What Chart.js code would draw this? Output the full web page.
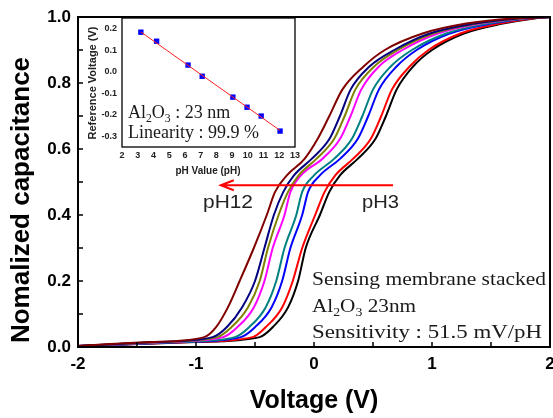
<!DOCTYPE html>
<html lang="en">
<head>
  <meta charset="UTF-8" />
  <title>C-V curves, Al2O3 sensing membrane</title>
  <script src="https://cdn.jsdelivr.net/npm/chart.js"></script>
  <style>
    body { margin: 0; background: #fff; }
    #wrap { position: relative; width: 553px; height: 418px; }
    #wrap canvas { position: absolute; }
  </style>
</head>
<body>
  <div id="wrap">
    <canvas id="cvChart" width="553" height="418" style="left:0;top:0"></canvas>
    <canvas id="insetChart" width="220" height="172" style="left:80px;top:10px"></canvas>
  </div>

  <script>
    // normalized capacitance levels, and the voltage where each curve reaches them
    const capLevels = [0.003, 0.015, 0.03, 0.06, 0.12, 0.2, 0.3, 0.4, 0.47, 0.52, 0.57, 0.63, 0.7, 0.78, 0.85, 0.9, 0.95, 0.98, 0.995, 1.0];
    const voltPH3  = [-2.0, -1.0,  -0.46, -0.35, -0.22, -0.135, -0.07, 0.05, 0.13, 0.22, 0.37, 0.52, 0.61, 0.70, 0.84, 1.00, 1.27, 1.60, 1.85, 2.0];
    const voltPH4  = [-2.0, -1.05, -0.52, -0.41, -0.27, -0.18, -0.10, 0.01, 0.09, 0.18, 0.33, 0.48, 0.57, 0.66, 0.81, 0.97, 1.24, 1.57, 1.83, 2.0];
    const voltPH6  = [-2.0, -1.1,  -0.62, -0.50, -0.36, -0.27, -0.20, -0.10, -0.05, 0.05, 0.22, 0.37, 0.46, 0.55, 0.70, 0.87, 1.15, 1.50, 1.79, 2.0];
    const voltPH7  = [-2.0, -1.15, -0.67, -0.55, -0.41, -0.32, -0.25, -0.15, -0.10, 0.00, 0.17, 0.32, 0.41, 0.50, 0.65, 0.83, 1.12, 1.47, 1.77, 2.0];
    const voltPH9  = [-2.0, -1.25, -0.77, -0.65, -0.51, -0.42, -0.35, -0.25, -0.20, -0.11, 0.07, 0.22, 0.31, 0.40, 0.55, 0.75, 1.05, 1.41, 1.74, 2.0];
    const voltPH10 = [-2.0, -1.3,  -0.82, -0.70, -0.56, -0.46, -0.39, -0.30, -0.22, -0.13, 0.02, 0.17, 0.26, 0.35, 0.51, 0.71, 1.01, 1.38, 1.72, 2.0];
    const voltPH11 = [-2.0, -1.35, -0.86, -0.74, -0.61, -0.50, -0.42, -0.34, -0.26, -0.17, -0.02, 0.13, 0.22, 0.31, 0.47, 0.68, 0.98, 1.36, 1.70, 2.0];
    const voltPH12 = [-2.0, -1.4,  -0.93, -0.83, -0.73, -0.63, -0.51, -0.40, -0.33, -0.23, -0.08, 0.03, 0.13, 0.24, 0.42, 0.60, 0.92, 1.29, 1.65, 2.0];

    const seriesNames  = ['pH12', 'pH11', 'pH10', 'pH9', 'pH7', 'pH6', 'pH4', 'pH3'];
    const seriesVolts  = [voltPH12, voltPH11, voltPH10, voltPH9, voltPH7, voltPH6, voltPH4, voltPH3];
    const seriesColors = ['#800000', '#000080', '#808000', '#ff00ff', '#008080', '#0000ff', '#ff0000', '#000000'];

    const xMajorTicks = [-2, -1, 0, 1, 2];
    const xMinorTicks = [-1.5, -0.5, 0.5, 1.5];
    const yMajorTicks = [0, 0.2, 0.4, 0.6, 0.8, 1.0];
    const yMinorTicks = [0.1, 0.3, 0.5, 0.7, 0.9];

    // inset: reference voltage vs pH
    const phValues    = [3.2, 4.2, 6.2, 7.1, 9.05, 9.95, 10.85, 12.05];
    const refVoltages = [0.184, 0.142, 0.031, -0.021, -0.118, -0.165, -0.206, -0.276];
    const fitPH   = [3.2, 12.05];
    const fitVolt = [0.185, -0.273];
    const insetXTicks = [2, 3, 4, 5, 6, 7, 8, 9, 10, 11, 12, 13];
    const insetYTicks = [-0.3, -0.2, -0.1, 0.0, 0.1, 0.2];

    const SANS = '"Liberation Sans", Arial, sans-serif';
    const SERIF = '"Liberation Serif", "Times New Roman", serif';

    // text made of normal and subscript pieces, optionally stretched to a width
    function drawRich(ctx, parts, x, y, size, family, targetW) {
      let total = 0;
      const widths = parts.map(([t, sub]) => {
        ctx.font = (sub ? size * 0.65 : size) + 'px ' + family;
        const w = ctx.measureText(t).width;
        total += w;
        return w;
      });
      const sx = targetW ? targetW / total : 1;
      ctx.save();
      ctx.translate(x, y);
      ctx.scale(sx, 1);
      ctx.textAlign = 'left';
      ctx.textBaseline = 'alphabetic';
      let cx = 0;
      parts.forEach(([t, sub], i) => {
        ctx.font = (sub ? size * 0.65 : size) + 'px ' + family;
        ctx.fillText(t, cx, sub ? size * 0.22 : 0);
        cx += widths[i];
      });
      ctx.restore();
    }

    const mainDecor = {
      id: 'mainDecor',
      afterDraw(chart) {
        const { ctx, chartArea: a, scales: { x, y } } = chart;
        ctx.save();
        ctx.strokeStyle = '#000';
        ctx.lineWidth = 1.5;
        ctx.beginPath();
        xMajorTicks.concat(xMinorTicks).forEach(v => {
          const px = x.getPixelForValue(v);
          ctx.moveTo(px, a.bottom);
          ctx.lineTo(px, a.bottom - 5);
        });
        yMajorTicks.concat(yMinorTicks).forEach(v => {
          const py = y.getPixelForValue(v);
          ctx.moveTo(a.left, py);
          ctx.lineTo(a.left + 5, py);
        });
        ctx.stroke();
        ctx.lineWidth = 2;
        ctx.strokeRect(a.left, a.top, a.right - a.left, a.bottom - a.top);

        // red arrow from pH3 to pH12
        const ay = y.getPixelForValue(0.49);
        const x0 = x.getPixelForValue(0.67);
        const x1 = x.getPixelForValue(-0.79);
        ctx.strokeStyle = '#ff0000';
        ctx.lineWidth = 2;
        ctx.beginPath();
        ctx.moveTo(x0, ay);
        ctx.lineTo(x1, ay);
        ctx.moveTo(x1 + 13, ay - 5);
        ctx.lineTo(x1, ay);
        ctx.lineTo(x1 + 13, ay + 5);
        ctx.stroke();

        ctx.fillStyle = '#222';
        drawRich(ctx, [['pH12', false]], 203, 208, 18, SANS, 50);
        drawRich(ctx, [['pH3', false]], 362, 208, 18, SANS, 37);

        ctx.fillStyle = '#1a1a1a';
        drawRich(ctx, [['Sensing membrane stacked', false]], 312, 285, 19, SERIF, 234);
        drawRich(ctx, [['Al', false], ['2', true], ['O', false], ['3', true], [' 23nm', false]], 312, 311.5, 19, SERIF, 104);
        drawRich(ctx, [['Sensitivity : 51.5 mV/pH', false]], 312, 338, 19, SERIF, 230);

        // axis titles
        ctx.fillStyle = '#000';
        ctx.font = 'bold 25px ' + SANS;
        ctx.textAlign = 'center';
        ctx.textBaseline = 'alphabetic';
        ctx.fillText('Voltage (V)', 314, 408);
        ctx.translate(22, 200);
        ctx.rotate(-Math.PI / 2);
        ctx.font = 'bold 26px ' + SANS;
        ctx.textBaseline = 'middle';
        ctx.fillText('Nomalized capacitance', 0, 0);
        ctx.restore();
      }
    };

    const insetDecor = {
      id: 'insetDecor',
      afterDraw(chart) {
        const { ctx, chartArea: a } = chart;
        ctx.save();
        ctx.strokeStyle = '#000';
        ctx.lineWidth = 1.3;
        ctx.strokeRect(a.left, a.top, a.right - a.left, a.bottom - a.top);

        ctx.fillStyle = '#1a1a1a';
        drawRich(ctx, [['Al', false], ['2', true], ['O', false], ['3', true], [' : 23 nm', false]], 48, 108, 18, SERIF);
        drawRich(ctx, [['Linearity : 99.9 %', false]], 48, 128, 18, SERIF);

        ctx.fillStyle = '#222';
        ctx.textAlign = 'center';
        ctx.textBaseline = 'middle';
        ctx.font = 'bold 10px ' + SANS;
        ctx.fillText('pH Value (pH)', 128, 161);
        ctx.translate(13, 73);
        ctx.rotate(-Math.PI / 2);
        ctx.font = 'bold 11px ' + SANS;
        ctx.fillText('Reference Voltage (V)', 0, 0);
        ctx.restore();
      }
    };

    const tickFont = { family: SANS, size: 17, weight: 'bold' };

    new Chart(document.getElementById('cvChart'), {
      type: 'line',
      data: {
        datasets: seriesNames.map((name, i) => ({
          label: name,
          data: seriesVolts[i].map((v, k) => ({ x: v, y: capLevels[k] })),
          borderColor: seriesColors[i],
          backgroundColor: seriesColors[i],
          borderWidth: 2,
          pointRadius: 0,
          cubicInterpolationMode: 'monotone',
          fill: false
        }))
      },
      options: {
        responsive: false,
        animation: false,
        layout: { padding: { top: 17, right: 3, left: 0, bottom: 0 } },
        plugins: { legend: { display: false }, tooltip: { enabled: false } },
        scales: {
          x: {
            type: 'linear', min: -2, max: 2,
            afterBuildTicks: s => { s.ticks = xMajorTicks.map(v => ({ value: v })); },
            afterFit: s => { s.height = 71; s.paddingLeft = 0; s.paddingRight = 0; },
            ticks: { font: tickFont, color: '#000', padding: 7, maxRotation: 0, callback: v => String(v) },
            grid: { display: false, drawTicks: false },
            border: { display: false }
          },
          y: {
            type: 'linear', min: 0, max: 1,
            afterBuildTicks: s => { s.ticks = yMajorTicks.map(v => ({ value: v })); },
            afterFit: s => { s.width = 78; s.paddingTop = 0; s.paddingBottom = 0; },
            ticks: { font: tickFont, color: '#000', padding: 7, callback: v => Number(v).toFixed(1) },
            grid: { display: false, drawTicks: false },
            border: { display: false }
          }
        }
      },
      plugins: [mainDecor]
    });

    const insetFont = { family: SANS, size: 9, weight: 'bold' };

    new Chart(document.getElementById('insetChart'), {
      type: 'scatter',
      data: {
        datasets: [
          {
            label: 'Linear fit',
            data: fitPH.map((p, i) => ({ x: p, y: fitVolt[i] })),
            showLine: true,
            borderColor: '#ff2020',
            borderWidth: 1,
            pointRadius: 0
          },
          {
            label: 'Reference voltage',
            data: phValues.map((p, i) => ({ x: p, y: refVoltages[i] })),
            pointStyle: 'rect',
            pointRadius: 3.8,
            backgroundColor: '#0000ff',
            borderColor: '#0000ff',
            borderWidth: 0
          }
        ]
      },
      options: {
        responsive: false,
        animation: false,
        layout: { padding: { top: 8, right: 5, left: 0, bottom: 0 } },
        plugins: { legend: { display: false }, tooltip: { enabled: false } },
        scales: {
          x: {
            type: 'linear', min: 2, max: 13,
            afterBuildTicks: s => { s.ticks = insetXTicks.map(v => ({ value: v })); },
            afterFit: s => { s.height = 35; s.paddingLeft = 0; s.paddingRight = 0; },
            ticks: { font: insetFont, color: '#222', padding: 3, maxRotation: 0, callback: v => String(v) },
            grid: { display: false, drawTicks: false },
            border: { display: false }
          },
          y: {
            type: 'linear', min: -0.35, max: 0.25,
            afterBuildTicks: s => { s.ticks = insetYTicks.map(v => ({ value: v })); },
            afterFit: s => { s.width = 42; s.paddingTop = 0; s.paddingBottom = 0; },
            ticks: { font: insetFont, color: '#222', padding: 5, callback: v => Number(v).toFixed(1) },
            grid: { display: false, drawTicks: false },
            border: { display: false }
          }
        }
      },
      plugins: [insetDecor]
    });
  </script>
</body>
</html>
